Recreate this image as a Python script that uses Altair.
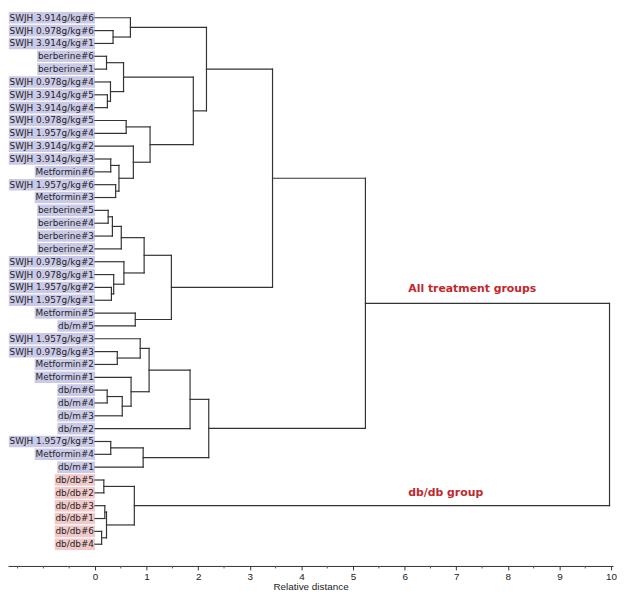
import altair as alt
import pandas as pd

# ---------------- data ----------------
leaf_labels = [
    "SWJH 3.914g/kg#6", "SWJH 0.978g/kg#6", "SWJH 3.914g/kg#1", "berberine#6",
    "berberine#1", "SWJH 0.978g/kg#4", "SWJH 3.914g/kg#5", "SWJH 3.914g/kg#4",
    "SWJH 0.978g/kg#5", "SWJH 1.957g/kg#4", "SWJH 3.914g/kg#2", "SWJH 3.914g/kg#3",
    "Metformin#6", "SWJH 1.957g/kg#6", "Metformin#3", "berberine#5",
    "berberine#4", "berberine#3", "berberine#2", "SWJH 0.978g/kg#2",
    "SWJH 0.978g/kg#1", "SWJH 1.957g/kg#2", "SWJH 1.957g/kg#1", "Metformin#5",
    "db/m#5", "SWJH 1.957g/kg#3", "SWJH 0.978g/kg#3", "Metformin#2",
    "Metformin#1", "db/m#6", "db/m#4", "db/m#3",
    "db/m#2", "SWJH 1.957g/kg#5", "Metformin#4", "db/m#1",
    "db/db#5", "db/db#2", "db/db#3", "db/db#1", "db/db#6", "db/db#4",
]
leaf_groups = ["treatment"] * 36 + ["db/db"] * 6

# hierarchical merges: id, child a, child b, relative distance
merge_id = ["A", "B", "C", "D", "E", "F", "G", "H", "I", "J", "K", "L", "M", "N",
            "O", "P", "Q", "R", "S", "T", "U", "V", "W", "X",
            "Y", "Z", "AA", "AB", "AC", "AD", "AE", "AF", "AG", "AH", "AI",
            "AJ", "AK", "AL", "AM", "AN", "ROOT"]
merge_a = ["L2", "L1", "L4", "L7", "L6", "C", "L9", "L12", "L14", "H", "L11", "G", "F", "B",
           "L16", "O", "P", "L22", "L21", "L20", "Q", "L24", "U", "N",
           "L27", "L26", "L30", "AA", "L29", "Z", "AD", "L34", "AF", "AE", "X",
           "L37", "L39", "L41", "AK", "AJ", "AI"]
merge_b = ["L3", "A", "L5", "L8", "D", "E", "L10", "L13", "L15", "I", "J", "K", "L", "M",
           "L17", "L18", "L19", "L23", "R", "S", "T", "L25", "V", "W",
           "L28", "Y", "L31", "L32", "AB", "AC", "L33", "L35", "L36", "AG", "AH",
           "L38", "L40", "L42", "AL", "AM", "AN"]
merge_h = [0.35, 0.686, 0.223, 0.24, 0.30, 0.553, 0.604, 0.305, 0.40, 0.464, 0.743, 1.067, 1.905, 2.16,
           0.255, 0.337, 0.509, 0.318, 0.362, 0.56, 0.952, 0.78, 1.48, 3.44,
           0.432, 0.876, 0.236, 0.528, 0.699, 1.048, 1.842, 0.305, 0.933, 2.204, 5.24,
           0.171, 0.19, 0.128, 0.223, 0.762, 9.97]

tick_values = list(range(0, 11))
minor_ticks = [-1.5, -1.0, -0.5] + [i + 0.5 for i in range(0, 10)]

annot_text = ["All treatment groups", "db/db group"]
annot_x = [6.07, 6.07]
annot_y = [22.13, 37.98]

# ---------------- layout helpers ----------------
W, H = 612, 560
X0_PX, X10_PX = 88.0, 610.0          # plot-pixel position of 0 and 10
UNIT = (X10_PX - X0_PX) / 10.0
x_domain = [-X0_PX / UNIT, (W - X0_PX) / UNIT]
Y1_PX, Y42_PX = 5.5, 538.0
STEP = (Y42_PX - Y1_PX) / 41.0
y_domain = [1 - Y1_PX / STEP, 42 + (H - Y42_PX) / STEP]

FONT_PX = 9.0
cw = {" ": 0.318, "#": 0.838, ".": 0.318, "/": 0.337, "S": 0.635, "W": 0.989, "J": 0.295,
      "H": 0.752, "M": 0.863, "b": 0.635, "d": 0.635, "e": 0.615, "f": 0.352, "g": 0.635,
      "i": 0.278, "k": 0.579, "m": 0.974, "n": 0.634, "o": 0.612, "r": 0.411, "t": 0.392}


def text_w(s):
    return sum(cw.get(c, 0.636) for c in s) * FONT_PX


leaf_df = pd.DataFrame({
    "label": leaf_labels,
    "group": leaf_groups,
    "idx": list(range(1, len(leaf_labels) + 1)),
})
leaf_df["x0"] = [-(text_w(s) + 1.6) / UNIT for s in leaf_labels]
leaf_df["x1"] = 0.0
leaf_df["y0"] = leaf_df["idx"] - 0.45
leaf_df["y1"] = leaf_df["idx"] + 0.45

# dendrogram segments
pos = {f"L{i}": (float(i), 0.0) for i in range(1, len(leaf_labels) + 1)}
segs = []
for mid, a, b, h in zip(merge_id, merge_a, merge_b, merge_h):
    ya, ha = pos[a]
    yb, hb = pos[b]
    segs.append({"x": ha, "x2": h, "y": ya, "y2": ya})
    segs.append({"x": hb, "x2": h, "y": yb, "y2": yb})
    segs.append({"x": h, "x2": h, "y": ya, "y2": yb})
    pos[mid] = ((ya + yb) / 2.0, h)
seg_df = pd.DataFrame(segs)

annot_df = pd.DataFrame({"text": annot_text, "x": annot_x, "y": annot_y})
minor_df = pd.DataFrame({"v": minor_ticks})

xs = alt.Scale(domain=x_domain, nice=False, zero=False)
ys = alt.Scale(domain=y_domain, nice=False, zero=False, reverse=True)

x_axis = alt.Axis(values=tick_values, format="d", title="Relative distance", grid=False,
                  domainColor="#333333", tickColor="#333333", tickSize=4, domainWidth=1,
                  labelFont="Liberation Sans", labelFontSize=10, labelColor="#222222",
                  labelPadding=2, labelFlush=False,
                  titleFont="Liberation Sans", titleFontSize=10, titleFontWeight="normal",
                  titleColor="#222222", titlePadding=0)

boxes = alt.Chart(leaf_df).mark_rect(strokeWidth=0).encode(
    x=alt.X("x0:Q", scale=xs, axis=x_axis),
    x2="x1:Q",
    y=alt.Y("y0:Q", scale=ys, axis=None),
    y2="y1:Q",
    color=alt.Color("group:N", scale=alt.Scale(domain=["treatment", "db/db"],
                                               range=["#cacae8", "#f1c9c9"]), legend=None),
)

texts = alt.Chart(leaf_df).mark_text(align="right", baseline="middle", dx=-1,
                                     font="DejaVu Sans", fontSize=FONT_PX, color="#1e1e1e").encode(
    x=alt.X("x1:Q", scale=xs),
    y=alt.Y("idx:Q", scale=ys),
    text="label:N",
)

tree = alt.Chart(seg_df).mark_rule(color="#333333", strokeWidth=1.2, strokeCap="square").encode(
    x=alt.X("x:Q", scale=xs),
    x2="x2:Q",
    y=alt.Y("y:Q", scale=ys),
    y2="y2:Q",
)

minor = alt.Chart(minor_df).mark_rule(color="#555555", strokeWidth=1).encode(
    x=alt.X("v:Q", scale=xs),
    y=alt.value(H),
    y2=alt.value(H + 2.5),
)

annots = alt.Chart(annot_df).mark_text(align="left", baseline="middle", font="DejaVu Sans",
                                       fontSize=11, fontWeight="bold", color="#c0282d").encode(
    x=alt.X("x:Q", scale=xs),
    y=alt.Y("y:Q", scale=ys),
    text="text:N",
)

chart = alt.layer(boxes, texts, tree, minor, annots).properties(
    width=W, height=H, padding=0, background="white"
).configure_view(stroke=None)

chart.save("out.html", embed_options={"renderer": "svg", "actions": False})
